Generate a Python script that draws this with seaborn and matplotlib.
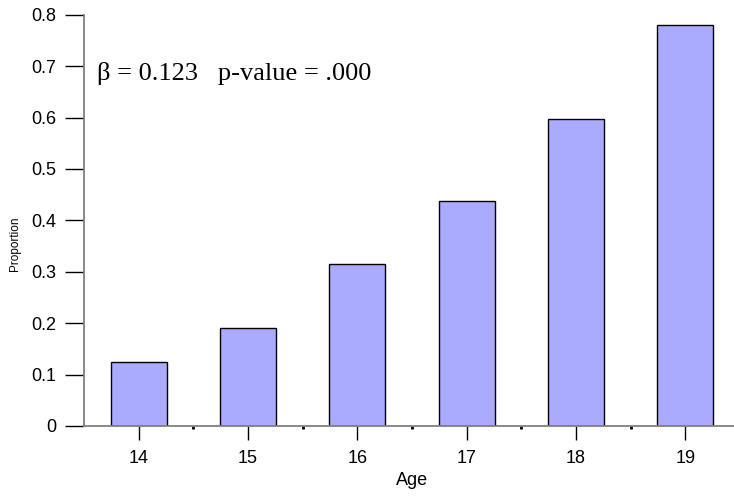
import matplotlib
matplotlib.use("Agg")
import matplotlib.pyplot as plt
import seaborn as sns
import pandas as pd

# Proportion by age
ages = ["14", "15", "16", "17", "18", "19"]
proportions = [0.124, 0.190, 0.315, 0.438, 0.598, 0.780]
y_ticks = [0, 0.1, 0.2, 0.3, 0.4, 0.5, 0.6, 0.7, 0.8]
y_tick_labels = ["0", "0.1", "0.2", "0.3", "0.4", "0.5", "0.6", "0.7", "0.8"]

df = pd.DataFrame({"Age": ages, "Proportion": proportions})

sns.set_theme(style="ticks")
plt.rcParams["font.family"] = ["Liberation Sans", "DejaVu Sans"]

fig = plt.figure(figsize=(7.34, 5.01), dpi=100)
ax = fig.add_axes([84 / 734, 75 / 501, 656 / 734, 411.3 / 501])

sns.barplot(data=df, x="Age", y="Proportion", color="#aaaaff", saturation=1,
            width=0.51, edgecolor="black", linewidth=1.0, ax=ax)

ax.set_xlim(-0.5, 5.5)
ax.set_ylim(0, 0.8)
ax.set_yticks(y_ticks)
ax.set_yticklabels(y_tick_labels)
ax.set_xticks(range(len(ages)))
ax.set_xticklabels(ages)
ax.set_xticks([i + 0.5 for i in range(len(ages) - 1)], minor=True)

for side in ("top", "right"):
    ax.spines[side].set_visible(False)
for side in ("left", "bottom"):
    ax.spines[side].set_color("#808080")
    ax.spines[side].set_linewidth(1.3)

ax.tick_params(axis="y", direction="out", length=14, width=1.0, color="black",
               labelsize=13, pad=6, labelcolor="black")
ax.tick_params(axis="x", which="major", direction="out", length=10, width=1.0,
               color="black", labelsize=13, pad=7, labelcolor="black")
ax.tick_params(axis="x", which="minor", direction="out", length=2, width=2.0,
               color="black")

ax.set_xlabel("Age", fontsize=13, color="black", labelpad=4)
ax.set_ylabel("")
fig.text(15 / 734, 1 - 244 / 501, "Proportion", rotation=90, ha="center", va="center",
         fontsize=8.5, color="black")

ax.text(97 / 734, 1 - 80 / 501, "\u03b2 = 0.123   p-value = .000",
        transform=fig.transFigure, fontsize=19, family=["Liberation Serif", "DejaVu Serif"],
        color="black", ha="left", va="baseline")

fig.savefig("out.png", dpi=100, facecolor="white")
